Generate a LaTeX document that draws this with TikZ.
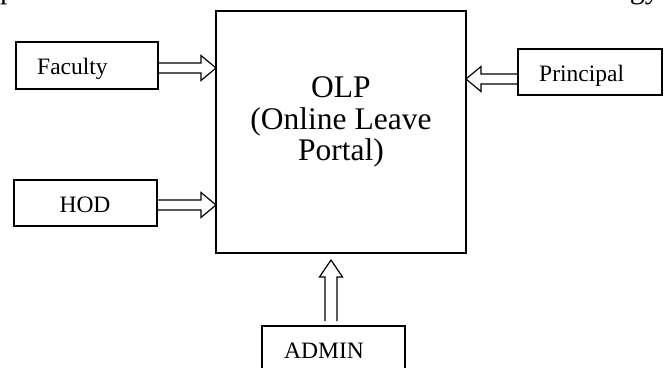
\documentclass[tikz,border=0pt]{standalone}
\usepackage{fontspec}
\setmainfont{Liberation Serif}
\usetikzlibrary{calc}
\newcommand\harr[3]{\draw[arr] ($(#1)+(0,5)$) -- ($(#2)+(#3*-15,5)$) -- ($(#2)+(#3*-15,12.5)$) -- (#2) -- ($(#2)+(#3*-15,-12.5)$) -- ($(#2)+(#3*-15,-5)$) -- ($(#1)+(0,-5)$);}
\newcommand\varr[2]{\draw[arr] ($(#1)+(-6,0)$) -- ($(#2)+(-6,-17)$) -- ($(#2)+(-11.5,-17)$) -- (#2) -- ($(#2)+(11.5,-17)$) -- ($(#2)+(6,-17)$) -- ($(#1)+(6,0)$);}
\begin{document}
\begin{tikzpicture}[x=1pt,y=1pt,
  box/.style={draw=black, line width=1.3pt, fill=white, inner sep=0pt, outer sep=0pt},
  bigbox/.style={draw=black, line width=1.8pt, fill=white, inner sep=0pt, outer sep=0pt},
  lbl/.style={inner sep=0pt, font=\fontsize{23.5}{27}\selectfont},
  big/.style={inner sep=0pt, align=center, font=\fontsize{31.5}{31.5}\selectfont},
  arr/.style={draw=black, line width=1.2pt, line join=miter}]
\useasboundingbox (0,0) rectangle (666,367);
\clip (0,0) rectangle (666,367);
\fill[white] (0,0) rectangle (666,367);
% page fragments at top edge
\node[inner sep=0pt, anchor=base west, font=\fontsize{30}{32}\selectfont] (frag1) at (0,368) {p};
\node[inner sep=0pt, anchor=base east, font=\fontsize{30}{32}\selectfont] (frag2) at (660,368) {gy};
% boxes
\node[bigbox, minimum width=250, minimum height=242] (olp) at (341,235) {};
\node[box, minimum width=142, minimum height=47] (fac) at (87,301.5) {};
\node[box, minimum width=143, minimum height=46] (hod) at (85.5,164) {};
\node[box, minimum width=144, minimum height=46] (pri) at (590,295) {};
\node[box, minimum width=143, minimum height=50] (adm) at (333.5,16) {};
% texts
\node[big] (olpt) at (341,245) {OLP\\(Online Leave\\Portal)};
\node[lbl, anchor=base west] (tfac) at (37,292) {Faculty};
\node[lbl, anchor=base] (thod) at (85,154) {HOD};
\node[lbl, anchor=base west] (tpri) at (539,285) {Principal};
\node[lbl, anchor=base west] (tadm) at (284,9) {ADMIN};
% arrows
\coordinate (fa1) at ($(fac.east)+(0,-2.5)$);
\coordinate (fa2) at (olp.west |- fa1);
\harr{fa1}{fa2}{1}
\coordinate (ha1) at ($(hod.east)+(0,-2)$);
\coordinate (ha2) at (olp.west |- ha1);
\harr{ha1}{ha2}{1}
\coordinate (pa1) at ($(pri.west)+(0,-7)$);
\coordinate (pa2) at (olp.east |- pa1);
\harr{pa1}{pa2}{-1}
\coordinate (aa1) at ($(adm.north)+(-2.5,5)$);
\coordinate (aa2) at ($(aa1 |- olp.south)+(0,-7)$);
\varr{aa1}{aa2}
\end{tikzpicture}
\end{document}
